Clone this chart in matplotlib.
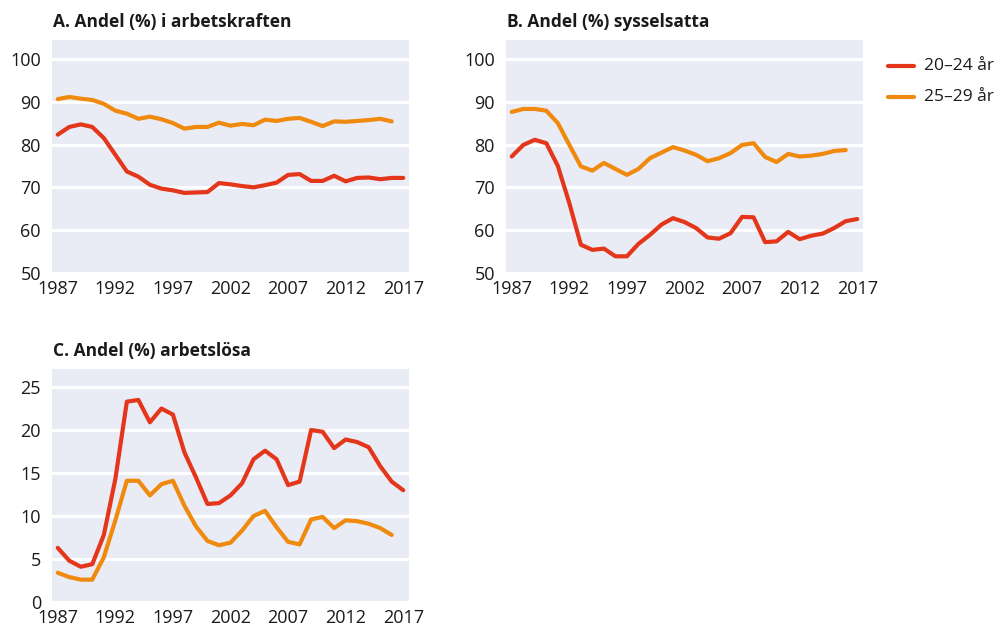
import numpy as np
import matplotlib
matplotlib.use("Agg")
import matplotlib.pyplot as plt
from matplotlib.lines import Line2D

plt.rcParams['font.family'] = ['Open Sans', 'Noto Sans', 'DejaVu Sans']

years_red = np.arange(1987, 2018)
years_orange = np.arange(1987, 2017)

# A. Andel (%) i arbetskraften
a_2024 = [82.3, 84.1, 84.7, 84.1, 81.5, 77.6, 73.7, 72.5, 70.6, 69.7, 69.3, 68.7, 68.8, 68.9, 71.0,
          70.7, 70.3, 70.0, 70.5, 71.1, 72.9, 73.1, 71.5, 71.5, 72.7, 71.4, 72.2, 72.3, 71.9, 72.2, 72.2]
a_2529 = [90.6, 91.1, 90.7, 90.4, 89.5, 87.9, 87.2, 86.0, 86.5, 85.9, 85.0, 83.7, 84.1, 84.1, 85.1,
          84.4, 84.8, 84.5, 85.8, 85.5, 86.0, 86.2, 85.3, 84.3, 85.4, 85.3, 85.5, 85.7, 86.0, 85.4]

# B. Andel (%) sysselsatta
b_2024 = [77.2, 79.9, 81.1, 80.3, 75.0, 66.3, 56.6, 55.4, 55.7, 53.9, 53.9, 56.8, 58.9, 61.3, 62.8,
          61.9, 60.5, 58.3, 58.0, 59.3, 63.1, 63.0, 57.2, 57.4, 59.6, 57.9, 58.7, 59.2, 60.5, 62.1, 62.6]
b_2529 = [87.6, 88.3, 88.3, 87.9, 85.0, 79.9, 74.9, 73.9, 75.7, 74.3, 72.9, 74.3, 76.8, 78.1, 79.4,
          78.6, 77.6, 76.1, 76.8, 78.0, 79.9, 80.3, 77.1, 75.9, 77.8, 77.2, 77.4, 77.8, 78.5, 78.7]

# C. Andel (%) arbetslösa
c_2024 = [6.3, 4.8, 4.1, 4.4, 7.8, 14.3, 23.3, 23.5, 20.9, 22.5, 21.8, 17.4, 14.5, 11.4, 11.5,
          12.4, 13.8, 16.6, 17.6, 16.6, 13.6, 14.0, 20.0, 19.8, 17.9, 18.9, 18.6, 18.0, 15.8, 14.0, 13.0]
c_2529 = [3.4, 2.9, 2.6, 2.6, 5.2, 9.5, 14.1, 14.1, 12.4, 13.7, 14.1, 11.2, 8.8, 7.1, 6.6,
          6.9, 8.3, 10.0, 10.6, 8.7, 7.0, 6.7, 9.6, 9.9, 8.6, 9.5, 9.4, 9.1, 8.6, 7.8]

titles = ["A. Andel (%) i arbetskraften", "B. Andel (%) sysselsatta", "C. Andel (%) arbetslösa"]
labels = ["20\u201324 år", "25\u201329 år"]
xticks = [1987, 1992, 1997, 2002, 2007, 2012, 2017]

RED = "#E4361A"
ORANGE = "#EF8A0E"
BG = "#E9ECF4"
TXT = "#1a1a1a"

W, H = 999, 631
fig = plt.figure(figsize=(W / 100, H / 100), dpi=100)

def make_ax(left, top, right, bottom):
    return fig.add_axes([left / W, 1 - bottom / H, (right - left) / W, (bottom - top) / H])

axA = make_ax(52, 40, 409, 273)
axB = make_ax(506, 40, 863, 273)
axC = make_ax(52, 369, 409, 602)

panels = [
    (axA, a_2024, a_2529, (50, 104.4), [50, 60, 70, 80, 90, 100]),
    (axB, b_2024, b_2529, (50, 104.4), [50, 60, 70, 80, 90, 100]),
    (axC, c_2024, c_2529, (0, 27.1), [0, 5, 10, 15, 20, 25]),
]

for (ax, red, orange, ylim, yticks), title in zip(panels, titles):
    ax.set_facecolor(BG)
    ax.plot(years_red, red, color=RED, lw=3.0, solid_capstyle='round', solid_joinstyle='round', zorder=3)
    ax.plot(years_orange, orange, color=ORANGE, lw=3.0, solid_capstyle='round', solid_joinstyle='round', zorder=3)
    ax.set_xlim(1986.5, 2017.5)
    ax.set_ylim(*ylim)
    ax.set_xticks(xticks)
    ax.set_yticks(yticks)
    ax.grid(axis='y', color='white', lw=2.2)
    ax.set_axisbelow(True)
    for s in ax.spines.values():
        s.set_visible(False)
    ax.tick_params(length=0, labelsize=13, colors=TXT)
    ax.tick_params(axis='y', pad=8)
    ax.tick_params(axis='x', pad=5)
    ax.text(0.003, 1.056, title, transform=ax.transAxes, fontsize=12.5, fontweight='bold',
            ha='left', va='baseline', color=TXT)

# legend drawn by hand in figure pixels
for i, (lab, col) in enumerate(zip(labels, [RED, ORANGE])):
    y = 1 - (66 + 31 * i) / H
    fig.add_artist(Line2D([888 / W, 914 / W], [y, y], color=col, lw=3.0,
                          solid_capstyle='round', transform=fig.transFigure))
    fig.text(924 / W, y, lab, fontsize=12.5, color=TXT, ha='left', va='center')

fig.savefig("out.png", dpi=100)
